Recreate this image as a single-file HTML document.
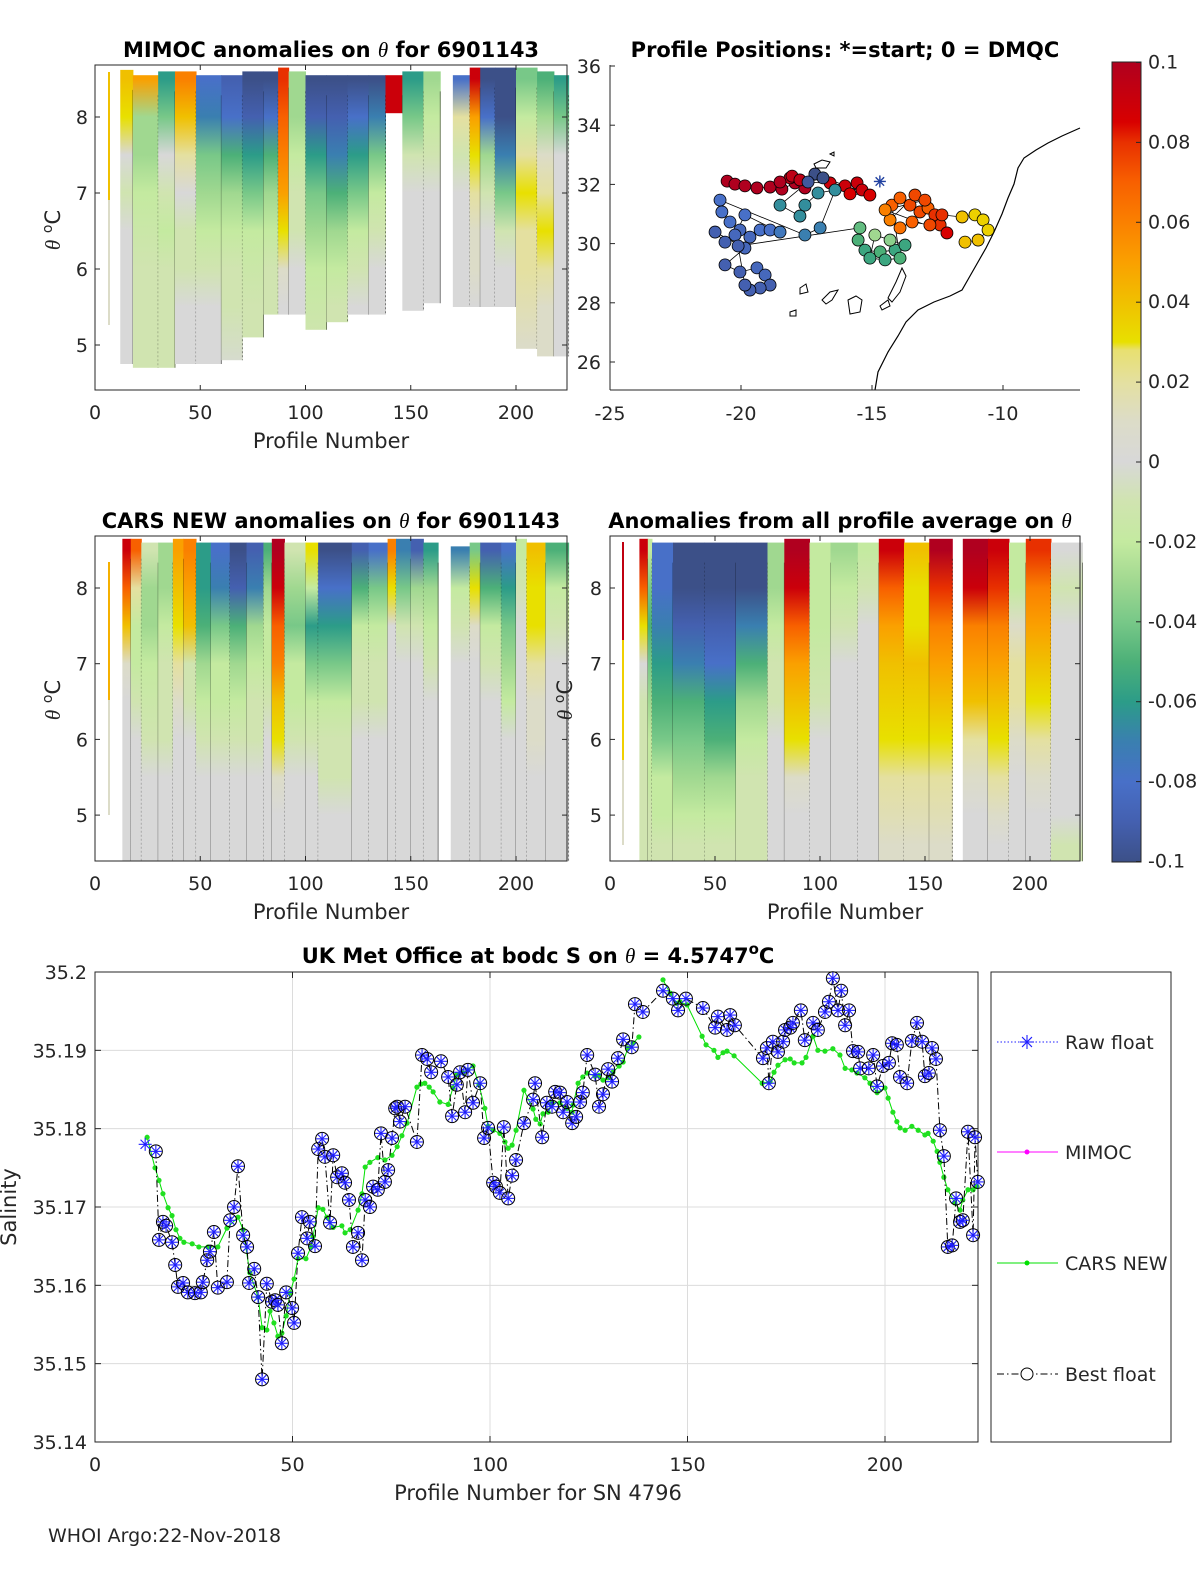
<!DOCTYPE html>
<html><head><meta charset="utf-8">
<style>
html,body{margin:0;padding:0;background:#fff;width:1200px;height:1575px;overflow:hidden;}
svg{display:block;font-family:"DejaVu Sans","Liberation Sans",sans-serif;}
.tk{font-size:19px;fill:#262626;}
.ttl{font-size:21px;font-weight:bold;fill:#000;}
.lab{font-size:21px;fill:#262626;}
</style></head>
<body>
<svg id="fig" width="1200" height="1575" viewBox="0 0 1200 1575" xmlns="http://www.w3.org/2000/svg">
<defs id="defs"></defs>
<g id="root"></g>
</svg>
<script>
// ================= DATA =================
const thetaLevels = [8.5, 8.0, 7.5, 7.0, 6.5, 6.0, 5.5, 5.0, 4.6];

// MIMOC anomalies
const mimocStart = [12,18,30,38,48,60,70,80,87,92,100,110,120,130,138,146,156,170,178,183,190,200,210,218];
const mimocEnd   = [18,30,38,48,60,70,80,87,92,100,110,120,130,138,146,156,164,178,183,190,200,210,218,225];
const mimocTop   = [8.62,8.55,8.6,8.6,8.55,8.55,8.6,8.6,8.65,8.6,8.55,8.55,8.55,8.55,8.55,8.6,8.6,8.55,8.65,8.65,8.65,8.65,8.6,8.55];
const mimocBot   = [4.75,4.7,4.7,4.75,4.75,4.8,5.1,5.4,5.4,5.4,5.2,5.3,5.4,5.4,8.05,5.45,5.55,5.5,5.5,5.5,5.5,4.95,4.85,4.85];
const mimocVals = [
 [0.04,0.03,0.0,-0.01,0,0,0,0,0],
 [0.05,-0.03,-0.03,-0.02,-0.015,-0.01,-0.01,-0.01,-0.01],
 [-0.06,-0.04,0,-0.01,-0.02,-0.01,-0.01,-0.01,-0.01],
 [0.06,0.04,0.02,0,-0.01,-0.01,0,0,0],
 [-0.08,-0.07,-0.04,-0.03,-0.02,-0.01,0,0,0],
 [-0.09,-0.08,-0.05,-0.03,-0.02,-0.01,-0.01,-0.005,0],
 [-0.1,-0.09,-0.06,-0.04,-0.02,-0.015,-0.01,-0.01,-0.01],
 [-0.1,-0.08,-0.05,-0.03,-0.02,-0.01,-0.01,-0.01,-0.01],
 [0.08,0.07,0.06,0.05,0.03,0.01,0,0,0],
 [-0.03,-0.03,-0.02,-0.01,-0.01,0,0,0,0],
 [-0.1,-0.09,-0.06,-0.04,-0.03,-0.02,-0.015,-0.01,-0.01],
 [-0.1,-0.09,-0.07,-0.05,-0.03,-0.02,-0.01,-0.01,-0.01],
 [-0.1,-0.08,-0.06,-0.04,-0.02,-0.01,0,0,0],
 [-0.1,-0.07,-0.04,-0.02,-0.01,0,0,0,0],
 [0.09,0.09,0.09,0.09,0.09,0.09,0.09,0.09,0.09],
 [-0.06,-0.04,-0.01,0,0,0,0,0,0],
 [-0.03,-0.02,-0.01,0,0,0,0,0,0],
 [-0.08,0.02,-0.01,0,0,0,0,0,0],
 [0.09,0.05,0.03,0.02,0.01,0.01,0,0,0],
 [-0.1,-0.08,-0.03,-0.01,0,0,0,0,0],
 [-0.1,-0.1,-0.07,-0.04,-0.01,0,0,0,0],
 [-0.04,-0.02,0.02,0.03,0.02,0.02,0.015,0.01,0.01],
 [-0.05,-0.03,0.01,0.02,0.03,0.02,0.01,0.01,0.01],
 [-0.06,-0.04,0,0,0,0,0,0,0]
];

// CARS anomalies
const carsStart = [13,17,22,30,37,42,48,55,64,72,80,84,90,100,106,122,130,139,143,150,156,169,178,183,193,200,205,214];
const carsEnd   = [17,22,30,37,42,48,55,64,72,80,84,90,100,106,122,130,139,143,150,156,163,178,183,193,200,205,214,225];
const carsTop   = [8.65,8.65,8.6,8.6,8.65,8.65,8.6,8.6,8.6,8.6,8.6,8.65,8.6,8.6,8.6,8.6,8.6,8.65,8.65,8.65,8.6,8.55,8.6,8.6,8.6,8.65,8.6,8.6];
const carsBot   = [4.39,4.39,4.39,4.39,4.39,4.39,4.39,4.39,4.39,4.39,4.39,4.39,4.39,4.39,4.39,4.39,4.39,4.39,4.39,4.39,4.39,4.39,4.39,4.39,4.39,4.39,4.39,4.39];
const carsVals = [
 [0.09,0.07,0.04,0.01,0,0,0,0,0],
 [0.07,0.02,-0.02,-0.02,-0.01,0,0,0,0],
 [-0.01,-0.03,-0.03,-0.02,-0.015,-0.01,0,0,0],
 [-0.03,-0.03,-0.02,-0.01,-0.01,-0.01,0,0,0],
 [0.05,0.04,0.03,0.02,0.01,0,0,0,0],
 [0.06,0.05,0.04,-0.01,-0.01,0,0,0,0],
 [-0.06,-0.06,-0.05,-0.03,-0.02,-0.01,0,0,0],
 [-0.08,-0.07,-0.04,-0.02,-0.02,-0.01,0,0,0],
 [-0.1,-0.09,-0.05,-0.03,-0.02,-0.01,0,0,0],
 [-0.09,-0.07,-0.03,-0.02,-0.01,-0.01,0,0,0],
 [-0.05,-0.03,-0.02,-0.02,-0.01,0,0,0,0],
 [0.1,0.09,0.07,0.06,0.04,0.03,0.01,0,0],
 [-0.01,-0.03,-0.04,-0.02,-0.02,-0.01,0,0,0],
 [0.03,-0.02,-0.06,-0.04,-0.02,-0.01,0,0,0],
 [-0.1,-0.08,-0.06,-0.04,-0.02,-0.01,-0.01,0,0],
 [-0.09,-0.05,-0.02,-0.01,-0.01,0,0,0,0],
 [-0.08,-0.04,-0.02,-0.01,-0.01,0,0,0,0],
 [0.06,0.03,0.0,0,0,0,0,0,0],
 [-0.07,-0.04,-0.01,0,0,0,0,0,0],
 [-0.09,-0.03,-0.01,0,0,0,0,0,0],
 [-0.06,-0.03,-0.02,-0.01,0,0,0,0,0],
 [-0.07,-0.02,-0.01,0,0,0,0,0,0],
 [-0.04,0.03,0.01,0,0,0,0,0,0],
 [-0.09,-0.05,-0.02,-0.01,0,0,0,0,0],
 [-0.08,-0.06,-0.04,-0.03,-0.02,0,0,0,0],
 [-0.02,-0.01,0,0,0,0,0,0,0],
 [0.04,0.03,0.03,0.02,0.01,0.01,0,0,0],
 [-0.05,-0.02,-0.01,0,0,0,0,0,0]
];

// Anomalies from all-profile average
const avgStart = [14,18,20,30,45,60,75,83,95,105,118,128,140,152,168,180,190,198,210];
const avgEnd   = [18,20,30,45,60,75,83,95,105,118,128,140,152,163,180,190,198,210,225];
const avgTop   = [8.65,8.65,8.6,8.6,8.6,8.6,8.6,8.65,8.6,8.6,8.6,8.65,8.6,8.65,8.65,8.65,8.6,8.65,8.6];
const avgBot   = [4.39,4.39,4.39,4.39,4.39,4.39,4.39,4.39,4.39,4.39,4.39,4.39,4.39,4.39,4.39,4.39,4.39,4.39,4.39];
const avgVals = [
 [0.09,0.07,0.03,0.0,-0.01,-0.01,-0.01,-0.01,-0.01],
 [-0.02,-0.04,-0.05,-0.04,-0.03,-0.02,-0.02,-0.01,-0.01],
 [-0.08,-0.08,-0.07,-0.06,-0.05,-0.04,-0.02,-0.02,-0.01],
 [-0.1,-0.1,-0.09,-0.07,-0.05,-0.04,-0.03,-0.02,-0.01],
 [-0.1,-0.1,-0.09,-0.08,-0.06,-0.05,-0.03,-0.02,-0.01],
 [-0.1,-0.1,-0.07,-0.05,-0.03,-0.02,-0.01,-0.01,-0.01],
 [-0.03,-0.03,-0.02,-0.01,-0.01,0,0,0,0],
 [0.1,0.09,0.07,0.05,0.04,0.03,0.01,0,0],
 [-0.02,-0.02,-0.02,-0.015,-0.01,0,0,0,0],
 [-0.03,-0.02,-0.01,0,0,0,0,0,0],
 [-0.02,-0.01,0,0,0,0,0,0,0],
 [0.09,0.07,0.05,0.04,0.035,0.03,0.02,0.015,0.01],
 [0.04,0.03,0.03,0.04,0.035,0.03,0.02,0.015,0.01],
 [0.1,0.08,0.06,0.05,0.04,0.03,0.02,0.015,0.01],
 [0.1,0.09,0.06,0.05,0.04,0.02,0.01,0,0],
 [0.09,0.08,0.06,0.05,0.04,0.03,0.02,0.01,0],
 [-0.02,-0.02,0.01,0.02,0.02,0.01,0,0,0],
 [0.08,0.06,0.05,0.04,0.03,0.02,0.01,0,0],
 [0,-0.01,0,0,0,0,0,0,-0.01]
];

// Profile positions (map)
const posLon = [-20.53,-20.23,-19.85,-19.39,-18.89,-18.44,-17.94,-17.56,-18.13,-18.05,-17.75,-18.51,-16.60,-16.03,-15.57,-15.38,-15.84,-15.08,
 -17.18,-16.87,-17.44,-18.51,-17.75,-17.56,-17.06,-16.41,-16.98,-17.56,
 -20.80,-20.73,-20.42,-20.04,-19.66,-19.27,-18.89,-18.51,-19.85,-20.23,-20.61,-20.99,-19.85,-20.61,-20.04,-19.39,-19.08,-18.89,-19.27,-19.66,-19.85,-20.11,
 -15.46,-15.53,-15.27,-14.69,-14.12,-13.74,-14.31,-14.89,-15.08,-14.50,-13.93,
 -14.24,-13.93,-13.55,-13.17,-12.86,-12.60,-12.40,-12.79,-13.47,-13.93,-14.31,-13.36,-12.98,-14.50,-12.14,-12.33,
 -11.56,-11.07,-10.76,-10.57,-10.95,-11.45];
const posLat = [32.11,32.01,31.95,31.88,31.91,31.84,32.05,31.88,32.22,32.28,32.15,32.08,32.05,31.95,32.05,31.81,31.68,31.64,
 32.35,32.22,32.08,31.30,30.93,31.30,31.71,31.81,30.53,30.29,
 31.47,31.07,30.73,30.46,30.22,30.46,30.46,30.39,30.97,30.29,30.05,30.39,29.85,29.28,29.04,29.18,28.94,28.60,28.50,28.43,28.60,29.92,
 30.53,30.12,29.78,29.72,29.78,29.95,30.12,30.29,29.51,29.45,29.51,
 31.30,31.54,31.30,31.07,31.20,30.97,30.63,30.63,30.73,30.53,30.80,31.64,31.47,31.14,30.36,30.97,
 30.90,30.97,30.80,30.46,30.12,30.05];
const posVal = [0.1,0.1,0.1,0.1,0.1,0.1,0.1,0.1,0.095,0.095,0.095,0.1,0.09,0.09,0.09,0.09,0.085,0.085,
 -0.1,-0.1,-0.095,-0.065,-0.065,-0.065,-0.065,-0.065,-0.07,-0.07,
 -0.08,-0.08,-0.08,-0.085,-0.085,-0.08,-0.08,-0.075,-0.08,-0.085,-0.09,-0.09,-0.085,-0.09,-0.09,-0.085,-0.085,-0.09,-0.09,-0.09,-0.09,-0.09,
 -0.045,-0.05,-0.055,-0.05,-0.055,-0.055,-0.035,-0.03,-0.055,-0.055,-0.05,
 0.07,0.07,0.075,0.075,0.07,0.08,0.08,0.075,0.07,0.065,0.06,0.075,0.075,0.06,0.085,0.08,
 0.04,0.035,0.035,0.035,0.04,0.04];
const lonTicks = [-25,-20,-15,-10];
const latTicks = [36,34,32,30,28,26];

// Bottom chart: salinity on theta = 4.5747
const bestProf = [15.4,16.2,17.2,18.0,19.5,20.3,21.0,22.3,23.5,25.3,26.8,27.3,28.4,29.1,30.1,31.1,33.4,34.2,35.2,36.2,37.5,38.5,39.0,40.3,41.3,42.3,43.5,44.8,45.6,46.3,47.3,48.4,49.9,50.4,51.4,52.4,53.7,54.4,55.7,56.5,57.5,58.2,59.5,60.3,61.3,62.5,63.3,64.3,65.3,66.6,67.6,68.4,69.6,70.4,71.6,72.4,73.4,74.2,75.2,76.0,76.5,77.2,78.5,81.5,82.8,84.1,85.1,87.6,89.4,90.4,91.6,92.4,93.7,94.4,95.7,97.5,98.5,99.5,100.8,101.5,102.5,103.5,104.6,105.6,106.6,108.6,110.9,111.4,113.2,114.4,115.7,116.5,117.7,118.5,119.5,120.8,121.8,122.8,123.5,124.6,126.6,127.6,128.6,129.9,130.9,132.4,133.7,135.9,136.7,138.7,143.8,146.3,147.6,149.6,153.9,157.0,157.7,160.0,160.8,162.0,169.1,170.1,170.6,171.6,172.9,174.2,174.7,176.0,176.7,178.7,179.7,181.8,183.0,184.8,185.8,186.8,188.1,188.9,189.9,190.9,191.9,193.2,193.7,195.9,197.0,198.0,199.5,201.0,201.8,203.0,203.8,205.6,206.8,208.1,209.4,210.1,211.1,211.9,212.9,213.9,214.9,215.9,217.0,218.0,219.0,219.7,221.0,222.3,222.8,223.5];
const bestSal = [35.1771,35.1658,35.1681,35.1676,35.1655,35.1626,35.1598,35.1603,35.1591,35.1590,35.1591,35.1604,35.1632,35.1643,35.1668,35.1597,35.1604,35.1683,35.1700,35.1752,35.1664,35.1649,35.1603,35.1621,35.1585,35.1480,35.1602,35.1579,35.1581,35.1575,35.1526,35.1591,35.1571,35.1552,35.1641,35.1687,35.1660,35.1681,35.1650,35.1774,35.1787,35.1764,35.1680,35.1766,35.1738,35.1743,35.1731,35.1709,35.1649,35.1667,35.1632,35.1709,35.1700,35.1726,35.1722,35.1794,35.1732,35.1747,35.1788,35.1826,35.1828,35.1809,35.1828,35.1783,35.1894,35.1889,35.1872,35.1886,35.1866,35.1816,35.1856,35.1872,35.1821,35.1875,35.1833,35.1858,35.1788,35.1801,35.1731,35.1726,35.1718,35.1802,35.1711,35.1740,35.1760,35.1807,35.1837,35.1858,35.1789,35.1833,35.1828,35.1847,35.1846,35.1821,35.1834,35.1807,35.1815,35.1834,35.1846,35.1894,35.1869,35.1828,35.1844,35.1876,35.1860,35.1890,35.1914,35.1904,35.1959,35.1949,35.1976,35.1966,35.1951,35.1966,35.1954,35.1929,35.1943,35.1926,35.1945,35.1932,35.1890,35.1903,35.1858,35.1911,35.1898,35.1911,35.1926,35.1929,35.1935,35.1951,35.1913,35.1935,35.1926,35.1949,35.1962,35.1992,35.1951,35.1976,35.1932,35.1951,35.1899,35.1898,35.1877,35.1877,35.1894,35.1854,35.1880,35.1884,35.1909,35.1907,35.1866,35.1858,35.1912,35.1935,35.1911,35.1867,35.1871,35.1903,35.1889,35.1798,35.1765,35.1649,35.1651,35.1711,35.1681,35.1683,35.1796,35.1664,35.1789,35.1732];
const rawFirstProf = 12.7;
const rawFirstSal = 35.1780;
const carsProf = [13.2,15.2,16.2,17.2,18.5,19.5,20.5,21.5,22.5,24.6,26.3,28.6,31.1,33.4,36.2,37.5,39.2,41.3,42.3,43.5,44.3,45.3,46.3,47.3,48.4,49.4,50.4,51.4,53.4,54.7,55.2,56.5,57.7,58.7,60.3,62.5,63.3,64.6,66.6,67.6,68.4,69.6,71.6,73.4,75.2,76.5,77.7,79.0,81.5,82.5,83.5,84.6,85.6,87.3,89.4,90.6,91.6,93.2,94.4,95.7,97.2,98.7,99.5,100.8,102.5,103.8,104.6,105.6,106.6,108.6,110.9,111.6,112.7,113.4,114.7,115.7,117.7,119.5,120.8,121.0,122.3,123.5,124.6,126.6,127.6,128.6,129.9,131.1,132.7,133.7,134.9,136.2,137.7,null,143.8,145.6,147.3,148.1,149.9,153.7,154.7,156.7,157.7,159.0,160.0,161.8,168.9,170.9,171.9,172.9,174.7,176.0,177.0,179.0,180.0,181.8,183.0,184.8,186.8,188.6,189.9,191.6,192.9,194.9,196.2,198.0,200.0,200.8,202.0,203.0,203.8,205.1,206.8,208.4,210.1,210.9,212.2,213.2,213.9,214.9,215.9,217.7,219.0,219.7,221.0,222.3,223.3];
const carsSal = [35.1789,35.1750,35.1734,35.1717,35.1699,35.1689,35.1671,35.1660,35.1655,35.1653,35.1649,35.1649,35.1649,35.1673,35.1687,35.1671,35.1616,35.1585,35.1546,35.1543,35.1567,35.1552,35.1535,35.1539,35.1561,35.1590,35.1608,35.1634,35.1634,35.1649,35.1662,35.1699,35.1697,35.1687,35.1674,35.1676,35.1667,35.1671,35.1696,35.1717,35.1751,35.1757,35.1763,35.1760,35.1766,35.1777,35.1791,35.1807,35.1853,35.1857,35.1858,35.1853,35.1847,35.1834,35.1831,35.1852,35.1869,35.1871,35.1875,35.1880,35.1856,35.1826,35.1803,35.1798,35.1794,35.1783,35.1775,35.1779,35.1798,35.1849,35.1825,35.1812,35.1806,35.1819,35.1821,35.1833,35.1833,35.1826,35.1821,35.1830,35.1858,35.1866,35.1871,35.1867,35.1868,35.1862,35.1865,35.1872,35.1880,35.1885,35.1903,35.1909,35.1917,null,35.1990,35.1973,35.1960,35.1962,35.1958,35.1918,35.1907,35.1900,35.1891,35.1897,35.1899,35.1893,35.1858,35.1860,35.1872,35.1881,35.1888,35.1889,35.1884,35.1884,35.1891,35.1918,35.1900,35.1899,35.1902,35.1894,35.1877,35.1875,35.1871,35.1865,35.1858,35.1846,35.1852,35.1839,35.1821,35.1809,35.1801,35.1798,35.1803,35.1798,35.1792,35.1794,35.1784,35.1771,35.1757,35.1738,35.1722,35.1705,35.1696,35.1709,35.1722,35.1722,35.1726];
const salTicks = [35.14,35.15,35.16,35.17,35.18,35.19,35.2];
const salTickLabels = ["35.14","35.15","35.16","35.17","35.18","35.19","35.2"];
const profTicks = [0,50,100,150,200];
const thetaTicks = [8,7,6,5];
const cbTicks = [0.1,0.08,0.06,0.04,0.02,0,-0.02,-0.04,-0.06,-0.08,-0.1];
const cbTickLabels = ["0.1","0.08","0.06","0.04","0.02","0","-0.02","-0.04","-0.06","-0.08","-0.1"];

// ================= RENDER =================
const NS = "http://www.w3.org/2000/svg";
const root = document.getElementById('root');
const defs = document.getElementById('defs');
function el(tag, attrs, parent){
  const e = document.createElementNS(NS, tag);
  for (const k in attrs) e.setAttribute(k, attrs[k]);
  (parent || root).appendChild(e);
  return e;
}
function txt(s, x, y, cls, anchor, parent, extra){
  const t = el('text', Object.assign({x:x, y:y, 'class':cls, 'text-anchor':anchor||'start'}, extra||{}), parent);
  t.textContent = s;
  return t;
}

const cmapStops = [
 [-0.1,[60,80,136]],[-0.09,[68,96,176]],[-0.08,[72,112,200]],[-0.07,[58,127,176]],[-0.06,[44,156,136]],
 [-0.05,[76,176,120]],[-0.04,[120,200,136]],[-0.03,[160,216,144]],[-0.02,[196,234,160]],[-0.01,[208,228,176]],
 [0,[216,216,216]],[0.01,[220,220,200]],[0.02,[228,224,160]],[0.028,[232,224,112]],[0.03,[232,224,0]],
 [0.04,[240,192,0]],[0.05,[250,160,0]],[0.06,[250,128,0]],[0.07,[248,96,0]],[0.08,[232,48,0]],[0.085,[216,0,0]],[0.1,[176,0,31]]
];
function cmap(v){
  if (v <= cmapStops[0][0]) return 'rgb('+cmapStops[0][1].join(',')+')';
  for (let i=1;i<cmapStops.length;i++){
    if (v <= cmapStops[i][0]){
      const a=cmapStops[i-1], b=cmapStops[i];
      const t=(v-a[0])/(b[0]-a[0]);
      const c=a[1].map((q,j)=>Math.round(q+(b[1][j]-q)*t));
      return 'rgb('+c.join(',')+')';
    }
  }
  return 'rgb('+cmapStops[cmapStops.length-1][1].join(',')+')';
}

let gid = 0;
function heatPanel(name, x0, xPer, yTh, starts, ends, tops, bots, vals){
  const g = el('g', {});
  
  
  const yA = yTh(thetaLevels[0]), yB = yTh(thetaLevels[thetaLevels.length-1]);
  for (let i=0;i<starts.length;i++){
    const id = 'hg'+(gid++);
    const lg = el('linearGradient', {id:id, gradientUnits:'userSpaceOnUse', x1:0, x2:0, y1:yA, y2:yB}, defs);
    thetaLevels.forEach((th,j)=>{
      el('stop', {offset:((yTh(th)-yA)/(yB-yA)).toFixed(4), 'stop-color':cmap(vals[i][j])}, lg);
    });
    const xs = x0 + starts[i]*xPer, xe = x0 + ends[i]*xPer;
    const r = el('rect', {x:xs, y:yTh(tops[i]), width:xe-xs+0.5, height:yTh(bots[i])-yTh(tops[i]), fill:'url(#'+id+')'}, g);
    
    
    // contour-like boundary
    el('line', {x1:xe, x2:xe, y1:yTh(tops[i])+20, y2:yTh(bots[i]), stroke:'#000', 'stroke-width':0.8, 'stroke-dasharray': (i%2? '2,2':'none'), opacity:0.55}, g);
  }
  return g;
}

function thetaAxes(name, bx, by, bw, bh, x0, xPer, yTh, tickX, showXlab){
  const g = el('g', {});
  
  
  el('rect', {x:bx, y:by, width:bw, height:bh, fill:'none', stroke:'#262626', 'stroke-width':1}, g);
  thetaTicks.forEach(t=>{
    const y = yTh(t);
    el('line', {x1:bx, x2:bx+5, y1:y, y2:y, stroke:'#262626'}, g);
    el('line', {x1:bx+bw, x2:bx+bw-5, y1:y, y2:y, stroke:'#262626'}, g);
    txt(String(t), tickX, y+7, 'tk', 'end', g);
  });
  profTicks.forEach(p=>{
    const x = x0 + p*xPer;
    el('line', {x1:x, x2:x, y1:by+bh, y2:by+bh-5, stroke:'#262626'}, g);
    el('line', {x1:x, x2:x, y1:by, y2:by+5, stroke:'#262626'}, g);
    txt(String(p), x, by+bh+29, 'tk', 'middle', g);
  });
  if (showXlab) txt('Profile Number', bx+bw/2, by+bh+58, 'lab', 'middle', g);
}
function thetaLabel(cx, cy){
  const t = el('text', {x:0, y:0, 'class':'lab', 'text-anchor':'middle', transform:'translate('+cx+','+cy+') rotate(-90)'});
  
  
  t.innerHTML = '<tspan font-family="Liberation Serif, serif" font-style="italic">θ</tspan> <tspan dy="-8" font-size="14">o</tspan><tspan dy="8">C</tspan>';
}

// ---- Panel 1: MIMOC ----
const yTop = th => 117 + (8-th)*76;
heatPanel('mimoc-heatmap', 95, 2.105, yTop, mimocStart, mimocEnd, mimocTop, mimocBot, mimocVals);
el('line', {x1:109, x2:109, y1:72, y2:200, stroke:'#f0c000', 'stroke-width':2});
el('line', {x1:109, x2:109, y1:200, y2:325, stroke:'#dcdcc8', 'stroke-width':2});
thetaAxes('mimoc', 95, 65, 472, 325, 95, 2.105, yTop, 88, true);
thetaLabel(60, 230);
{const t = txt('', 331, 57, 'ttl', 'middle');  
 t.innerHTML = 'MIMOC anomalies on <tspan font-family="Liberation Serif, serif" font-style="italic" font-weight="normal">θ</tspan>  for 6901143';}

// ---- Panel 2: Map ----
const mapX = lon => 610 + (lon+25)*26.2;
const mapY = lat => 66 + (36-lat)*29.6;
{
  const g = el('g', {});
  
  
  el('rect', {x:610, y:65, width:470, height:325, fill:'#fff', stroke:'none'}, g);
  // coastline (geography background)
  el('path', {d:'M875,390 L878,372 L888,352 L898,336 L906,322 L918,310 L934,302 L950,296 L962,290 L970,276 L978,262 L986,248 L994,232 L1002,214 L1008,198 L1014,184 L1018,168 L1024,158 L1036,150 L1048,143 L1062,136 L1080,128', fill:'none', stroke:'#000', 'stroke-width':1.2}, g);
  el('path', {d:'M848,300 L856,296 L862,300 L860,312 L850,314 Z', fill:'none', stroke:'#000', 'stroke-width':1}, g);
  el('path', {d:'M822,300 L830,292 L838,290 L832,300 L826,304 Z', fill:'none', stroke:'#000', 'stroke-width':1}, g);
  el('path', {d:'M888,298 L896,282 L902,268 L906,276 L900,292 L892,302 Z', fill:'none', stroke:'#000', 'stroke-width':1}, g);
  el('path', {d:'M880,306 L888,300 L890,306 L882,310 Z', fill:'none', stroke:'#000', 'stroke-width':1}, g);
  el('path', {d:'M800,288 L806,284 L808,292 L800,294 Z', fill:'none', stroke:'#000', 'stroke-width':1}, g);
  el('path', {d:'M790,312 L796,310 L796,316 L790,316 Z', fill:'none', stroke:'#000', 'stroke-width':1}, g);
  el('path', {d:'M814,164 L822,160 L830,162 L826,168 L816,168 Z', fill:'none', stroke:'#000', 'stroke-width':1}, g);
  el('path', {d:'M830,154 L834,152 L834,156 Z', fill:'none', stroke:'#000', 'stroke-width':1}, g);
  // track line
  let d='';
  posLon.forEach((lo,i)=>{ d += (i?'L':'M')+mapX(lo).toFixed(1)+','+mapY(posLat[i]).toFixed(1); });
  el('path', {d:d, fill:'none', stroke:'#000', 'stroke-width':0.8}, g);
  posLon.forEach((lo,i)=>{
    const c = el('circle', {cx:mapX(lo), cy:mapY(posLat[i]), r:6, fill:cmap(posVal[i]), stroke:'#000', 'stroke-width':0.8}, g);
    
    
  });
  // start star
  const sx = mapX(-14.7), sy = mapY(32.1);
  [0,45,90,135].forEach(a=>{
    const r=a*Math.PI/180;
    el('line', {x1:sx-6*Math.cos(r), y1:sy-6*Math.sin(r), x2:sx+6*Math.cos(r), y2:sy+6*Math.sin(r), stroke:'#2040a0', 'stroke-width':1.4}, g);
  });
  el('line', {x1:610, x2:1080, y1:390, y2:390, stroke:'#262626'}, g);
  el('line', {x1:610, x2:610, y1:65, y2:390, stroke:'#262626'}, g);
  lonTicks.forEach(v=>{ const x=mapX(v); el('line',{x1:x,x2:x,y1:390,y2:385,stroke:'#262626'},g); txt(String(v), x, 420, 'tk', 'middle', g); });
  latTicks.forEach(v=>{ const y=mapY(v); el('line',{x1:610,x2:615,y1:y,y2:y,stroke:'#262626'},g); txt(String(v), 601, y+7, 'tk', 'end', g); });
  const t = txt('Profile Positions: *=start; 0 = DMQC', 845, 57, 'ttl', 'middle', g);
   
}

// ---- Colorbar ----
{
  const g = el('g', {});
  
  
  const cy = v => 462 - v*3995;
  const lg = el('linearGradient', {id:'cbgrad', x1:0, x2:0, y1:1, y2:0}, defs);
  cmapStops.forEach(s=>{ el('stop', {offset:((s[0]+0.1)/0.2).toFixed(4), 'stop-color':cmap(s[0])}, lg); });
  el('rect', {x:1112, y:62, width:29, height:800, fill:'url(#cbgrad)', stroke:'#262626', 'stroke-width':1}, g);
  cbTicks.forEach((v,i)=>{
    const y = cy(v);
    el('line', {x1:1136, x2:1141, y1:y, y2:y, stroke:'#262626'}, g);
    txt(cbTickLabels[i], 1148, y+6, 'tk', 'start', g, {'font-size':'17px'});
  });
}

// ---- Panel 3: CARS ----
const yMid = th => 588 + (8-th)*75.7;
heatPanel('cars-heatmap', 95, 2.105, yMid, carsStart, carsEnd, carsTop, carsBot, carsVals);
el('line', {x1:109, x2:109, y1:562, y2:700, stroke:'#f5b000', 'stroke-width':2});
el('line', {x1:109, x2:109, y1:700, y2:815, stroke:'#dcdcc8', 'stroke-width':2});
thetaAxes('cars', 95, 536, 472, 325, 95, 2.105, yMid, 88, true);
thetaLabel(60, 700);
{const t = txt('', 331, 528, 'ttl', 'middle');  
 t.innerHTML = 'CARS NEW anomalies on <tspan font-family="Liberation Serif, serif" font-style="italic" font-weight="normal">θ</tspan> for 6901143';}

// ---- Panel 4: Avg anomalies ----
heatPanel('average-anomaly-heatmap', 610, 2.1, yMid, avgStart, avgEnd, avgTop, avgBot, avgVals);
el('line', {x1:623, x2:623, y1:542, y2:640, stroke:'#c00010', 'stroke-width':2});
el('line', {x1:623, x2:623, y1:640, y2:760, stroke:'#f0d000', 'stroke-width':2});
el('line', {x1:623, x2:623, y1:760, y2:845, stroke:'#dcdcc8', 'stroke-width':2});
thetaAxes('average', 610, 536, 470, 325, 610, 2.1, yMid, 602, true);
thetaLabel(572, 700);
{const t = txt('', 840, 528, 'ttl', 'middle');  
 t.innerHTML = 'Anomalies from all profile average on <tspan font-family="Liberation Serif, serif" font-style="italic" font-weight="normal">θ</tspan>';}

// ---- Bottom salinity chart ----
const sx = p => 95 + p*3.95;
const sy = s => 972 + (35.2 - s)*7833;
{
  const g = el('g', {});
  
  
  el('rect', {x:95, y:972, width:883, height:470, fill:'#fff', stroke:'none'}, g);
  salTicks.forEach((s,i)=>{
    const y = sy(s);
    el('line', {x1:95, x2:978, y1:y, y2:y, stroke:'#dcdcdc', 'stroke-width':1}, g);
    el('line', {x1:95, x2:101, y1:y, y2:y, stroke:'#262626'}, g);
    el('line', {x1:978, x2:972, y1:y, y2:y, stroke:'#262626'}, g);
    txt(salTickLabels[i], 87, y+7, 'tk', 'end', g);
  });
  profTicks.forEach(p=>{
    const x = sx(p);
    el('line', {x1:x, x2:x, y1:972, y2:1442, stroke:'#dcdcdc', 'stroke-width':1}, g);
    el('line', {x1:x, x2:x, y1:1442, y2:1436, stroke:'#262626'}, g);
    el('line', {x1:x, x2:x, y1:972, y2:978, stroke:'#262626'}, g);
    txt(String(p), x, 1471, 'tk', 'middle', g);
  });
  el('rect', {x:95, y:972, width:883, height:470, fill:'none', stroke:'#262626', 'stroke-width':1}, g);

  // CARS line
  let d=''; let pen=false;
  carsProf.forEach((p,i)=>{
    if (p===null || carsSal[i]===null){ pen=false; return; }
    d += (pen?'L':'M')+sx(p).toFixed(1)+','+sy(carsSal[i]).toFixed(1); pen=true;
  });
  const cl = el('path', {d:d, fill:'none', stroke:'#00e000', 'stroke-width':1}, g);
  
  
  carsProf.forEach((p,i)=>{
    if (p===null) return;
    const c = el('circle', {cx:sx(p), cy:sy(carsSal[i]), r:2.6, fill:'#20e020'}, g);
    
    
  });

  // best float line
  let d2='';
  bestProf.forEach((p,i)=>{ d2 += (i?'L':'M')+sx(p).toFixed(1)+','+sy(bestSal[i]).toFixed(1); });
  const bl = el('path', {d:d2, fill:'none', stroke:'#000', 'stroke-width':1, 'stroke-dasharray':'7,3,1.5,3'}, g);
  
  

  function star(x, y, r, parent){
    [0,45,90,135].forEach(a=>{
      const q=a*Math.PI/180;
      el('line', {x1:x-r*Math.cos(q), y1:y-r*Math.sin(q), x2:x+r*Math.cos(q), y2:y+r*Math.sin(q), stroke:'#1f1fff', 'stroke-width':1.1}, parent);
    });
  }
  bestProf.forEach((p,i)=>{
    const x=sx(p), y=sy(bestSal[i]);
    const mg = el('g', {}, g);
    
    
    el('circle', {cx:x, cy:y, r:6.5, fill:'none', stroke:'#000', 'stroke-width':1}, mg);
    star(x, y, 6, mg);
  });
  const rg = el('g', {}, g);
  
  
  star(sx(rawFirstProf), sy(rawFirstSal), 6.5, rg);

  txt('Profile Number for SN 4796', 538, 1500, 'lab', 'middle', g);
  const yl = el('text', {x:0, y:0, 'class':'lab', 'text-anchor':'middle', transform:'translate(16,1207) rotate(-90)'}, g);
  yl.textContent = 'Salinity';
  
  
  const t = txt('', 538, 963, 'ttl', 'middle', g);
  
  
  t.innerHTML = 'UK Met Office at bodc S on <tspan font-family="Liberation Serif, serif" font-style="italic" font-weight="normal">θ</tspan> = 4.5747<tspan dy="-9" font-size="15">o</tspan><tspan dy="9">C</tspan>';
}

// ---- Legend ----
{
  const g = el('g', {});
  
  
  el('rect', {x:991, y:972, width:180, height:470, fill:'#fff', stroke:'#262626', 'stroke-width':1}, g);
  const rows = [[1042,'Raw float'],[1152,'MIMOC'],[1263,'CARS NEW'],[1374,'Best float']];
  rows.forEach((r,i)=>{
    const eg = el('g', {}, g);
    
    
    const y=r[0];
    if (i===0){
      el('line',{x1:997,x2:1058,y1:y,y2:y,stroke:'#1f1fff','stroke-dasharray':'1.5,2'},eg);
      [0,45,90,135].forEach(a=>{const q=a*Math.PI/180; el('line',{x1:1027-7*Math.cos(q),y1:y-7*Math.sin(q),x2:1027+7*Math.cos(q),y2:y+7*Math.sin(q),stroke:'#1f1fff','stroke-width':1.1},eg);});
    } else if (i===1){
      el('line',{x1:997,x2:1058,y1:y,y2:y,stroke:'#ff00ff'},eg);
      el('circle',{cx:1027,cy:y,r:2.5,fill:'#ff00ff'},eg);
    } else if (i===2){
      el('line',{x1:997,x2:1058,y1:y,y2:y,stroke:'#00e000'},eg);
      el('circle',{cx:1027,cy:y,r:2.5,fill:'#00e000'},eg);
    } else {
      el('line',{x1:997,x2:1058,y1:y,y2:y,stroke:'#000','stroke-dasharray':'7,3,1.5,3'},eg);
      el('circle',{cx:1027,cy:y,r:6,fill:'#fff',stroke:'#000'},eg);
    }
    txt(r[1], 1065, y+7, 'tk', 'start', eg, {'font-size':'18px'});
  });
}

// footer
{const t = txt('WHOI Argo:22-Nov-2018', 48, 1542, 'tk', 'start', null, {'font-size':'16px', fill:'#000'});
  }
</script>
</body></html>
